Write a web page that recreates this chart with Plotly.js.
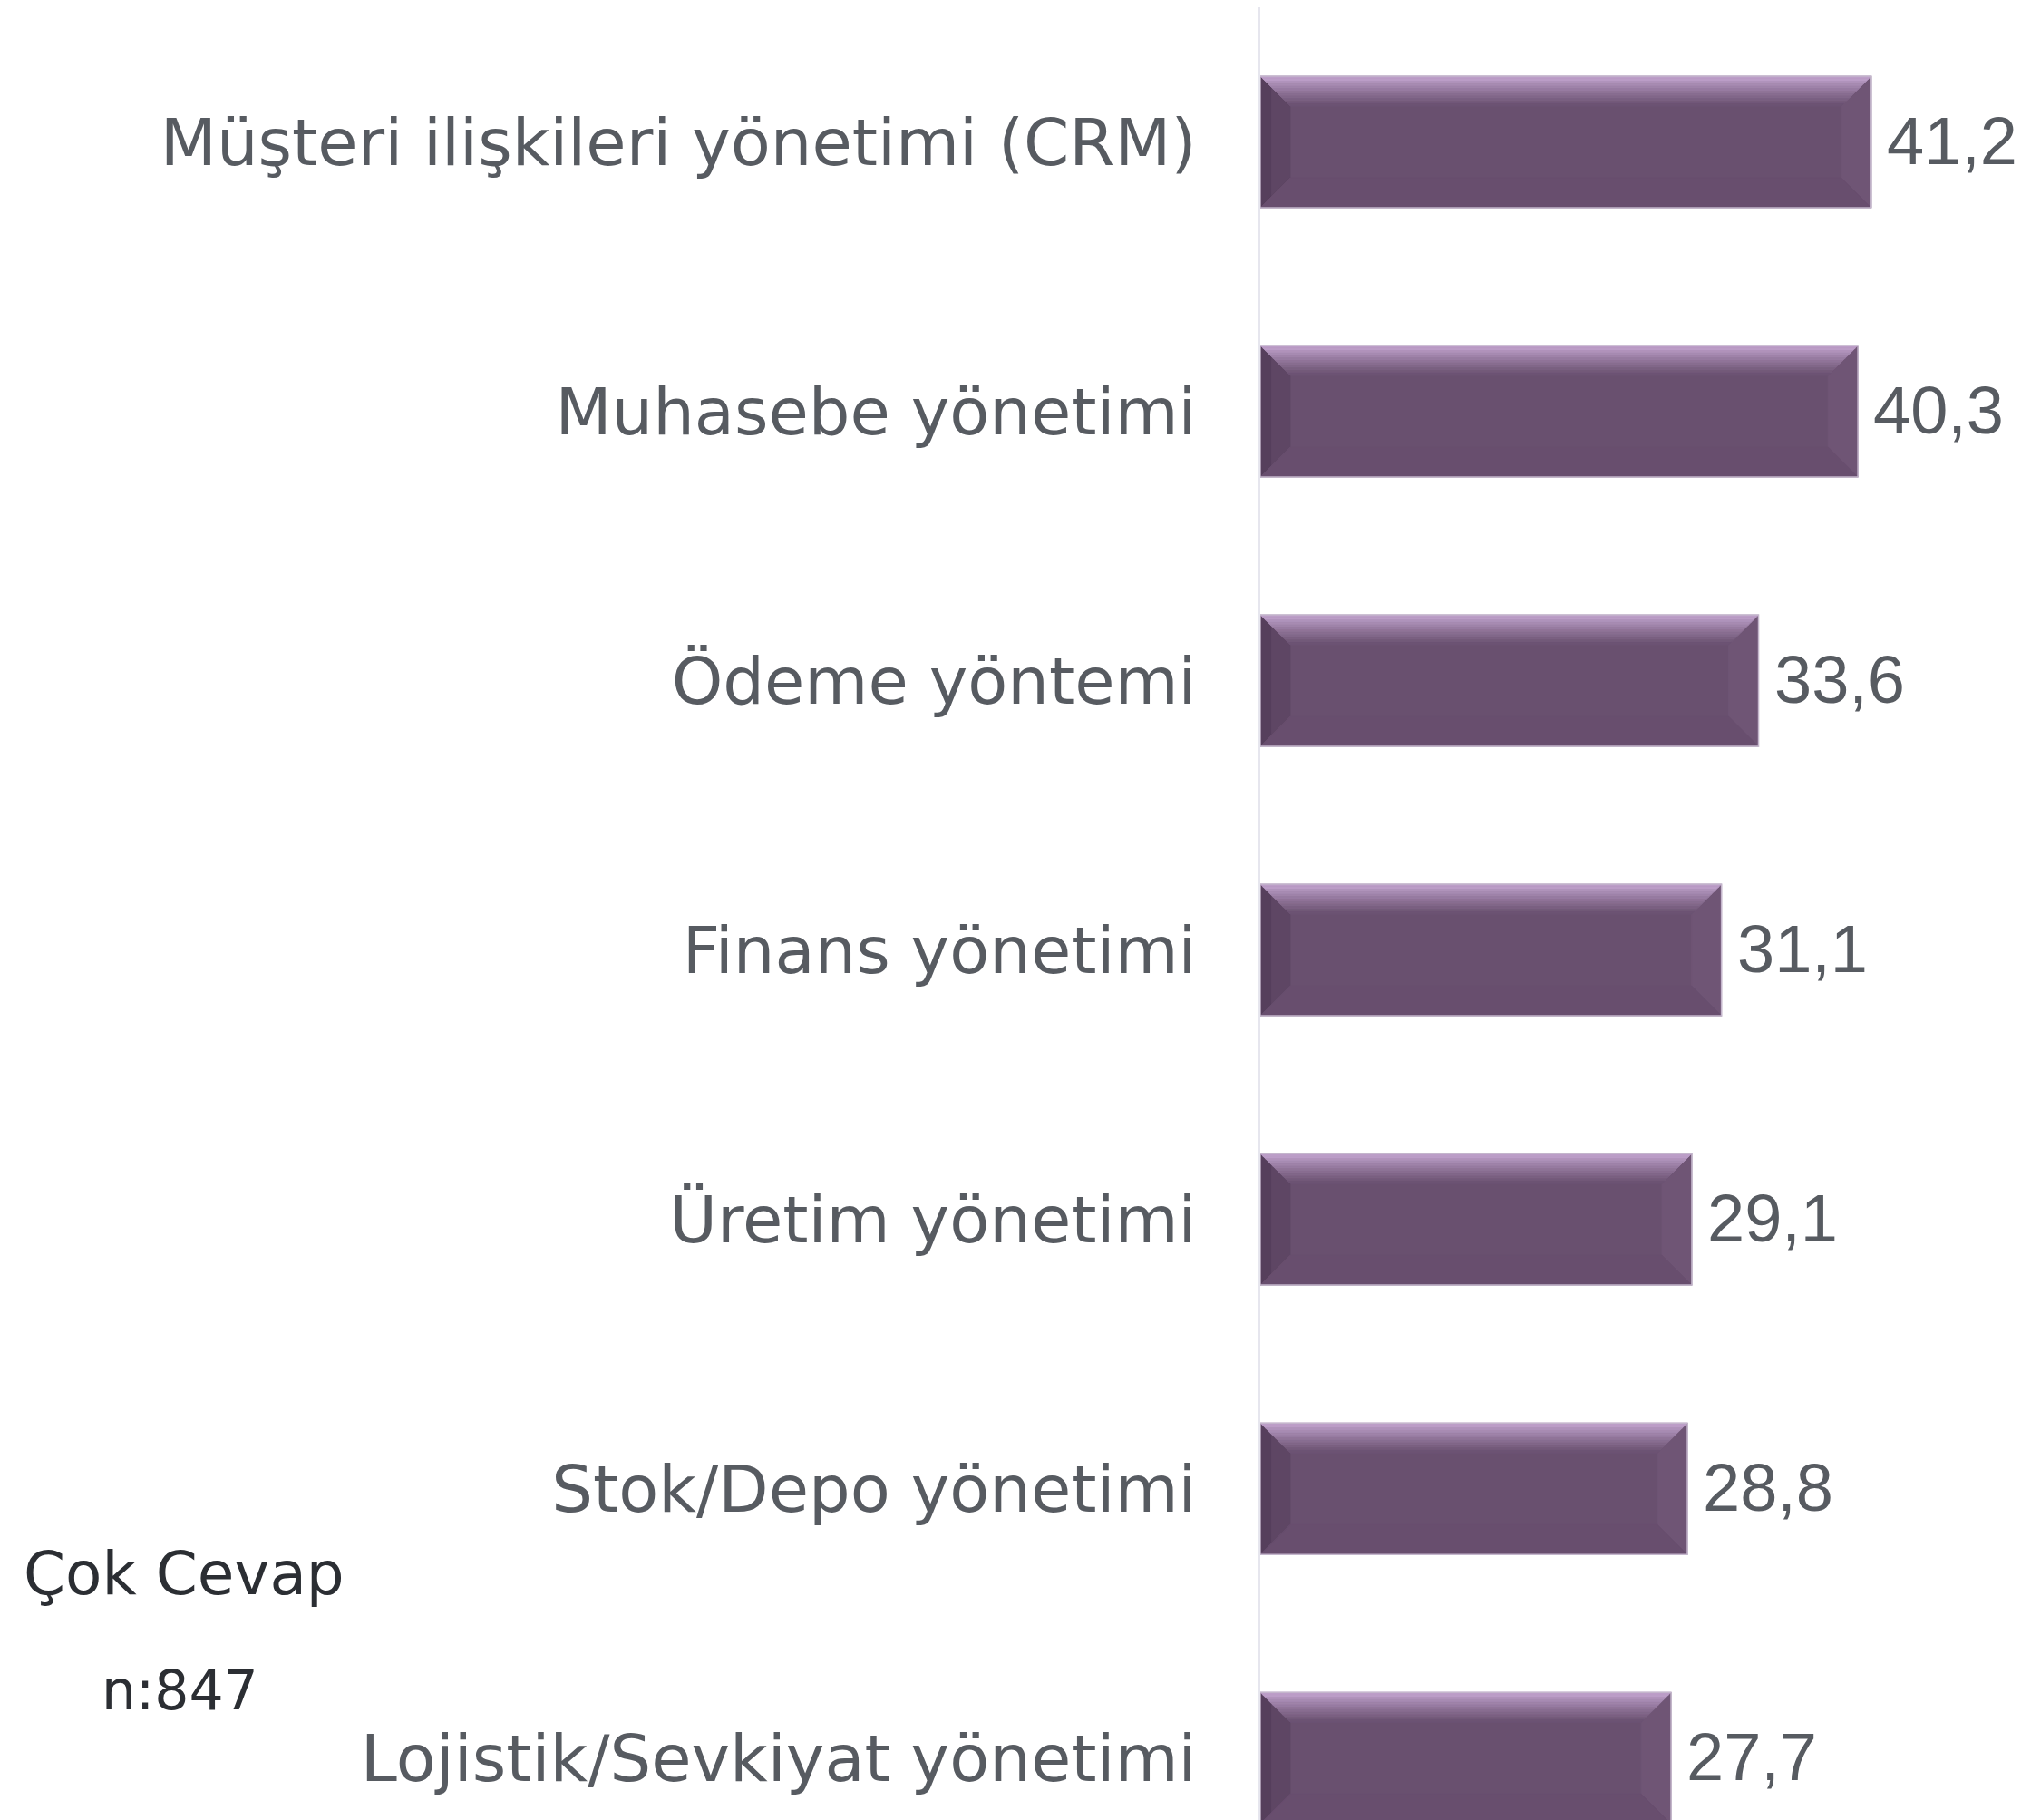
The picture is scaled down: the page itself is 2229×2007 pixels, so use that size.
<!DOCTYPE html>
<html>
<head>
<meta charset="utf-8">
<script src="https://cdn.plot.ly/plotly-3.0.1.min.js"></script>
<style>html,body{margin:0;padding:0;background:#fff;}#chart{width:2229px;height:2007px;}</style>
</head>
<body>
<div id="chart"></div>
<script>
// ---- data ----
const categories = [
  "Müşteri ilişkileri yönetimi (CRM)",
  "Muhasebe yönetimi",
  "Ödeme yöntemi",
  "Finans yönetimi",
  "Üretim yönetimi",
  "Stok/Depo yönetimi",
  "Lojistik/Sevkiyat yönetimi"
];
const values = [41.2, 40.3, 33.6, 31.1, 29.1, 28.8, 27.7];
const noteLines = ["Çok Cevap", "n:847"];

// ---- layout constants ----
const W = 2229, H = 2007;
const M = {l: 1390, r: 0, t: 8, b: 0};
const plotW = W - M.l - M.r, plotH = H - M.t - M.b;
const xRange = [0, 51.3];
const yRange = [6.23, -0.5];
const pxX = plotW / (xRange[1] - xRange[0]);
const pxY = plotH / Math.abs(yRange[0] - yRange[1]);
const barW = 0.488;
const bev = 33;              // bevel size in px
const dx = bev / pxX, dy = bev / pxY;

const idx = categories.map((c, i) => i);

const base = [105, 80, 111];
const topLight = [188, 158, 200];
function mix(a, b, t) {
  return 'rgb(' + a.map((v, k) => Math.round(v + (b[k] - v) * t)).join(',') + ')';
}
function poly(pts) {
  return 'M' + pts.map(p => p[0] + ',' + p[1]).join(' L') + ' Z';
}

const shapes = [];
values.forEach((v, i) => {
  const x0 = 0, x1 = v;
  const yt = i - barW / 2, yb = i + barW / 2;
  // left bevel (dark)
  shapes.push({type: 'path', xref: 'x', yref: 'y', layer: 'above',
    path: poly([[x0, yt], [x0 + dx, yt + dy], [x0 + dx, yb - dy], [x0, yb]]),
    fillcolor: 'rgb(94,70,100)', line: {width: 0.8, color: 'rgb(94,70,100)'}});
  shapes.push({type: 'path', xref: 'x', yref: 'y', layer: 'above',
    path: poly([[x0, yt], [x0 + dx * 0.35, yt + dy * 0.35], [x0 + dx * 0.35, yb - dy * 0.35], [x0, yb]]),
    fillcolor: 'rgb(86,63,92)', line: {width: 0.8, color: 'rgb(86,63,92)'}});
  // right bevel (slightly lighter)
  shapes.push({type: 'path', xref: 'x', yref: 'y', layer: 'above',
    path: poly([[x1, yt], [x1 - dx, yt + dy], [x1 - dx, yb - dy], [x1, yb]]),
    fillcolor: 'rgb(111,85,117)', line: {width: 0.8, color: 'rgb(111,85,117)'}});
  // bottom bevel
  shapes.push({type: 'path', xref: 'x', yref: 'y', layer: 'above',
    path: poly([[x0, yb], [x0 + dx, yb - dy], [x1 - dx, yb - dy], [x1, yb]]),
    fillcolor: 'rgb(104,78,110)', line: {width: 0.8, color: 'rgb(104,78,110)'}});
  // top bevel as gradient bands
  const N = 12;
  for (let k = 0; k < N; k++) {
    const a = k / N, b = (k + 1) / N;
    const m = a + 0.5 / N;
    const t = Math.pow(Math.max(0, (m - 0.12) / 0.88), 0.85);
    const col = mix(topLight, base, Math.min(1, t));
    shapes.push({type: 'path', xref: 'x', yref: 'y', layer: 'above',
      path: poly([[x0 + dx * a, yt + dy * a], [x1 - dx * a, yt + dy * a],
                  [x1 - dx * b, yt + dy * b], [x0 + dx * b, yt + dy * b]]),
      fillcolor: col, line: {width: 0.8, color: col}});
  }
  // outline
  shapes.push({type: 'rect', xref: 'x', yref: 'y', layer: 'above',
    x0: x0, x1: x1, y0: yt, y1: yb,
    fillcolor: 'rgba(0,0,0,0)', line: {width: 1.5, color: 'rgb(196,182,204)'}});
});

const annotations = values.map((v, i) => ({
  x: v, y: i, xref: 'x', yref: 'y',
  text: v.toFixed(1).replace('.', ','),
  showarrow: false, xanchor: 'left', yanchor: 'middle', xshift: 15, yshift: 1,
  font: {family: 'Liberation Sans, Arial, sans-serif', size: 74, color: '#575b61'}
}));

const notePos = [[24, 1735], [110, 1864]];
const noteSize = [66, 60];
noteLines.forEach((t, k) => {
  annotations.push({
    x: (notePos[k][0] - M.l) / plotW, y: 1 - (notePos[k][1] - M.t) / plotH,
    xref: 'paper', yref: 'paper', text: t, showarrow: false,
    xanchor: 'left', yanchor: 'middle',
    font: {family: 'DejaVu Sans, sans-serif', size: noteSize[k], color: '#2b2e33'}
  });
});

const trace = {
  type: 'bar', orientation: 'h',
  x: values, y: idx, width: barW,
  marker: {color: 'rgb(105,80,111)', line: {width: 0}},
  hoverinfo: 'skip'
};

const layout = {
  width: W, height: H,
  margin: {l: M.l, r: M.r, t: M.t, b: M.b, pad: 0},
  paper_bgcolor: '#ffffff', plot_bgcolor: '#ffffff',
  showlegend: false,
  xaxis: {range: xRange, visible: false, fixedrange: true},
  yaxis: {
    range: yRange, tickmode: 'array', tickvals: idx, ticktext: categories,
    showline: true, linecolor: '#e6e6ee', linewidth: 2,
    showgrid: false, zeroline: false,
    ticks: 'outside', ticklen: 54, tickcolor: 'rgba(0,0,0,0)',
    tickfont: {family: 'DejaVu Sans, sans-serif', size: 72, color: '#575b61'},
    fixedrange: true
  },
  shapes: shapes,
  annotations: annotations
};

Plotly.newPlot('chart', [trace], layout, {staticPlot: true, displayModeBar: false});
</script>
</body>
</html>
